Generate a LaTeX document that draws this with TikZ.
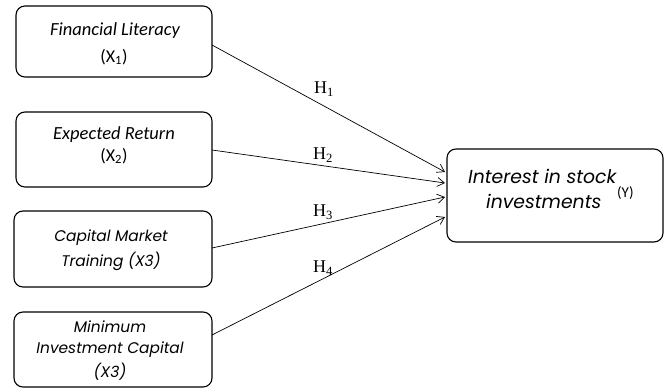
\documentclass[tikz,border=0pt]{standalone}
\usepackage{fontspec}
\setmainfont{Liberation Serif}
\newfontfamily\boxa{Carlito}
\newfontfamily\boxb{Poppins}
\usetikzlibrary{arrows.meta}
\begin{document}
\begin{tikzpicture}[x=1pt,y=-1pt,
  varbox/.style={draw, line width=1.1pt, rounded corners=9pt, inner sep=0pt},
  conn/.style={-{Straight Barb[length=7pt,width=9pt]}, line width=0.7pt},
  ta/.style={inner sep=0pt, font=\boxa\itshape\fontsize{18.5}{20}\selectfont},
  tan/.style={inner sep=0pt, font=\boxa\fontsize{18}{20}\selectfont},
  tb/.style={inner sep=0pt, font=\boxb\itshape\fontsize{15.4}{18}\selectfont},
  ty/.style={inner sep=0pt, anchor=base west, font=\boxb\itshape\fontsize{18.8}{22}\selectfont},
  hlab/.style={font=\fontsize{18}{18}\selectfont}]
\useasboundingbox (0,0) rectangle (665,389);
\draw[varbox] (16,6) rectangle (212,77);
\draw[varbox] (16,112) rectangle (212,187);
\draw[varbox] (14,211) rectangle (212,287);
\draw[varbox] (14,312) rectangle (212,387);
\draw[varbox] (447,149) rectangle (663,242);
\node[ta] (b1a) at (115,31) {Financial Literacy};
\node[tan] (b1b) at (114,57) {(X\textsubscript{1})};
\node[ta] (b2a) at (114,135) {Expected Return};
\node[tan] (b2b) at (114,156) {(X\textsubscript{2})};
\node[tb] (b3a) at (111,238) {Capital Market};
\node[tb] (b3b) at (111,261) {Training (X3)};
\node[tb] (b4a) at (110,327) {Minimum};
\node[tb] (b4b) at (110,349.5) {Investment Capital};
\node[tb] (b4c) at (110,372) {(X3)};
\node[ty] (y1) at (468,183) {Interest in stock};
\node[ty] (y2) at (486,208) {investments};
\node[inner sep=0pt, anchor=base west, font=\boxa\fontsize{15}{16}\selectfont] (yy) at (617,197) {(Y)};
\coordinate (s1) at (212,45);
\coordinate (s2) at (212,150);
\coordinate (s3) at (212,248);
\coordinate (s4) at (212,335);
\coordinate (e1) at (445,172);
\coordinate (e2) at (445,183);
\coordinate (e3) at (445,197);
\coordinate (e4) at (445,217);
\draw[conn] (s1) -- (e1);
\draw[conn] (s2) -- (e2);
\draw[conn] (s3) -- (e3);
\draw[conn] (s4) -- (e4);
\node[hlab] (h1) at (324,89) {H\textsubscript{1}};
\node[hlab] (h2) at (323,155) {H\textsubscript{2}};
\node[hlab] (h3) at (323,212) {H\textsubscript{3}};
\node[hlab] (h4) at (323,268) {H\textsubscript{4}};
\end{tikzpicture}
\end{document}
